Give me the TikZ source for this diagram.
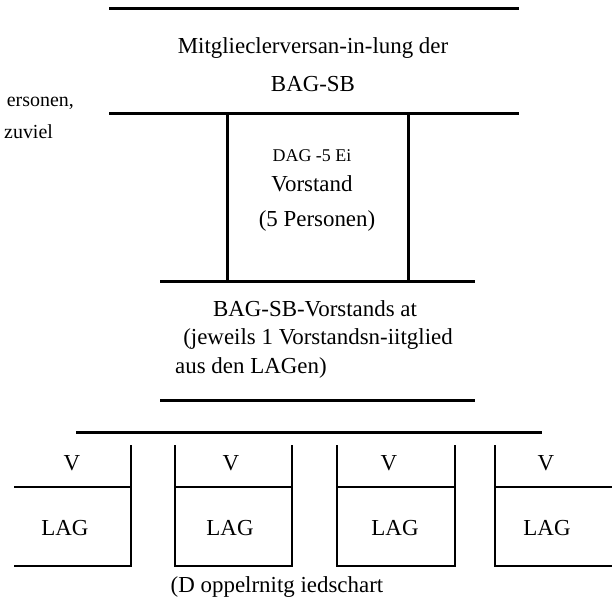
\documentclass[tikz,border=0pt]{standalone}
\usepackage{fontspec}
\setmainfont{Liberation Serif}
\tikzset{
  bar/.style={line width=3bp},
  lagline/.style={line width=2bp},
  txt/.style={inner sep=0pt, font=\fontsize{23}{27}\selectfont},
  small/.style={inner sep=0pt, font=\fontsize{18}{21}\selectfont},
  side/.style={inner sep=0pt, font=\fontsize{20}{23}\selectfont},
}

\begin{document}
\begin{tikzpicture}[x=1bp,y=-1bp]
  \useasboundingbox (0,0) rectangle (612,600);
  % Mitgliederversammlung
  \draw[bar] (109,9) -- (519,9);
  \node[txt] (mv) at (313,48) {Mitglieclerversan-in-lung der};
  \node[txt] (bag) at (313,84) {BAG-SB};
  \draw[bar] (109,114) -- (519,114);
  \node[side,anchor=east] (rest1) at (74,103) {ersonen,};
  \node[side,anchor=west] (rest2) at (4,132) {zuviel};
  % Vorstand
  \draw[bar] (227,114) -- (227,281);
  \draw[bar] (408,114) -- (408,281);
  \node[small] (dag) at (312,156) {DAG -5 Ei};
  \node[txt] (vs) at (312,184) {Vorstand};
  \node[txt] (fuenf) at (317,221) {(5 Personen)};
  \draw[bar] (160,281) -- (475,281);
  % Vorstandsrat
  \node[txt] (rat) at (315,309) {BAG-SB-Vorstands at};
  \node[txt] (jew) at (318,339) {(jeweils 1 Vorstandsn-iitglied};
  \node[txt,anchor=west] (aus) at (175,368) {aus den LAGen)};
  \draw[bar] (160,400) -- (475,400);
  \draw[bar] (76,432) -- (542,432);
  % LAGs
  \draw[lagline] (14,487) -- (131,487) (131,445) -- (131,566) -- (14,566);
  \draw[lagline] (175,445) -- (175,566) -- (292,566) -- (292,445) (175,487) -- (292,487);
  \draw[lagline] (337,445) -- (337,566) -- (455,566) -- (455,445) (337,487) -- (455,487);
  \draw[lagline] (612,487) -- (495,487) (495,445) -- (495,566) -- (612,566);
  \node[txt] (v1) at (72,463) {V};
  \node[txt] (v2) at (231,463) {V};
  \node[txt] (v3) at (389,463) {V};
  \node[txt] (v4) at (546,463) {V};
  \node[txt] (lag1) at (65,528) {LAG};
  \node[txt] (lag2) at (230,528) {LAG};
  \node[txt] (lag3) at (395,528) {LAG};
  \node[txt] (lag4) at (547,528) {LAG};
  \node[txt] (dmg) at (277,587) {(D oppelrnitg iedschart};
\end{tikzpicture}
\end{document}
